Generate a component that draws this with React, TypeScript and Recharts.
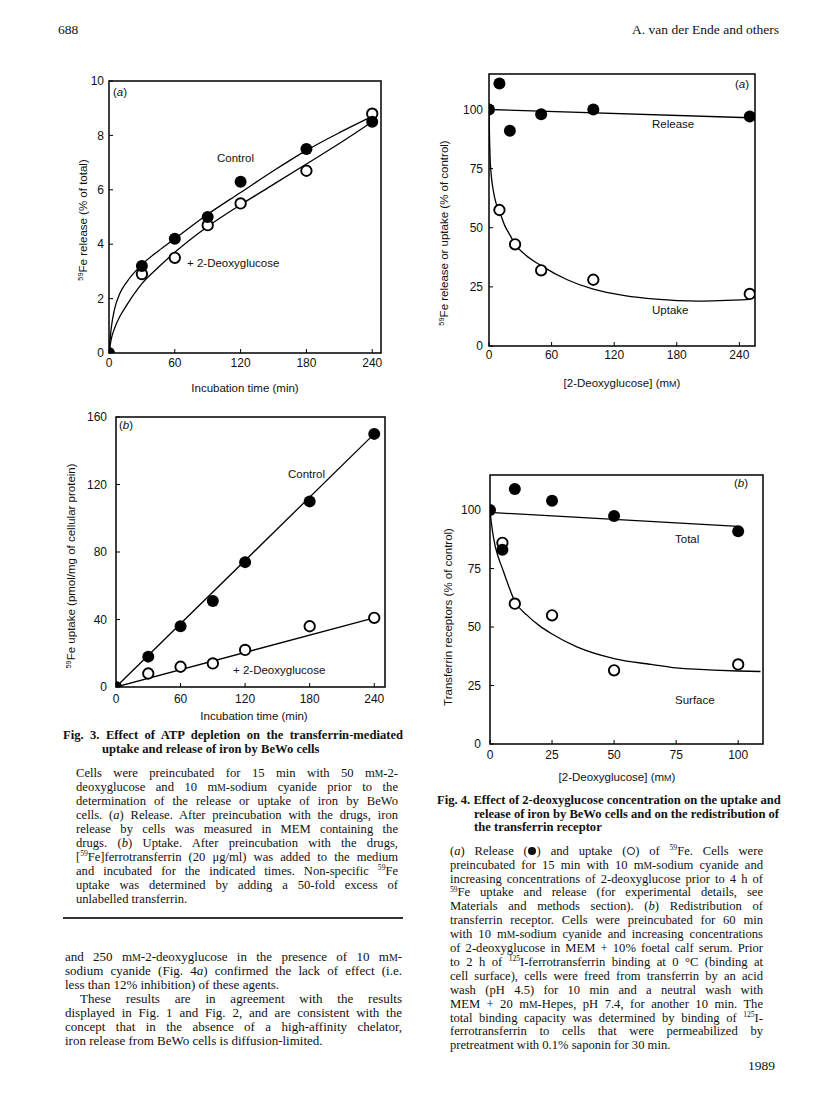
import React from 'react';
import { ComposedChart, XAxis, YAxis, Line, Scatter, ReferenceArea } from 'recharts';

// Fig. 3a: 59Fe release
const relTime = [0, 30, 60, 90, 120, 180, 240];
const relControl = [0, 3.2, 4.2, 5.0, 6.3, 7.5, 8.5];
const relDeoxy = [0, 2.9, 3.5, 4.7, 5.5, 6.7, 8.8];
const relFitX = [0, 2, 5, 10, 16, 30, 45, 60, 90, 120, 150, 180, 210, 240];
const relFitControl = [0, 0.9, 1.6, 2.2, 2.6, 3.25, 3.75, 4.2, 5.1, 5.9, 6.7, 7.45, 8.1, 8.7];
const relFitDeoxy = [0, 0.5, 0.9, 1.35, 1.75, 2.55, 3.15, 3.7, 4.65, 5.45, 6.2, 6.95, 7.7, 8.5];

// Fig. 3b: 59Fe uptake
const upTime = [0, 30, 60, 90, 120, 180, 240];
const upControl = [0, 18, 36, 51, 74, 110, 150];
const upDeoxy = [0, 8, 12, 14, 22, 36, 41];
const upFitX = [0, 240];
const upFitControl = [0, 150];
const upFitDeoxy = [0, 41];

// Fig. 4a: release / uptake vs 2-deoxyglucose
const relConc = [0, 10, 20, 50, 100, 250];
const relPct = [100, 111, 91, 98, 100, 97];
const uptConc = [10, 25, 50, 100, 250];
const uptPct = [57.5, 43, 32, 28, 22];
const relLineX = [0, 250];
const relLineY = [100, 96.5];
const uptFitX = [0, 0.5, 1, 2, 4, 7, 10, 15, 20, 25, 35, 50, 75, 100, 130, 160, 200, 250];
const uptFitY = [100, 88, 80, 73, 66, 60, 57, 51, 47, 43, 38.5, 34, 28, 24, 21.3, 19.8, 19, 19.7];

// Fig. 4b: transferrin receptors
const totConc = [0, 5, 10, 25, 50, 100];
const totPct = [100, 83, 109, 104, 97.5, 91];
const surConc = [5, 10, 25, 50, 100];
const surPct = [86, 60, 55, 31.5, 34];
const totLineX = [0, 100];
const totLineY = [99, 93];
const surFitX = [0, 0.5, 1, 2, 3, 5, 7, 10, 15, 20, 25, 35, 50, 65, 75, 90, 100, 109];
const surFitY = [100, 95, 91, 85, 81, 75, 69, 61, 55, 50.5, 47, 41.5, 36.5, 34, 32.5, 31.6, 31.2, 31];

const ticks240 = [0, 60, 120, 180, 240];
const ticks100 = [0, 25, 50, 75, 100];

const fig3Title = [
  'Fig. 3. Effect of ATP depletion on the transferrin-mediated',
  'uptake and release of iron by BeWo cells',
];
const fig3Text = [
  'Cells were preincubated for 15 min with 50 mM-2-',
  'deoxyglucose and 10 mM-sodium cyanide prior to the',
  'determination of the release or uptake of iron by BeWo',
  'cells. (_a_) Release. After preincubation with the drugs, iron',
  'release by cells was measured in MEM containing the',
  'drugs. (_b_) Uptake. After preincubation with the drugs,',
  '[^59Fe]ferrotransferrin (20 μg/ml) was added to the medium',
  'and incubated for the indicated times. Non-specific ^59Fe',
  'uptake was determined by adding a 50-fold excess of',
  'unlabelled transferrin.',
];
const bodyText = [
  'and 250 mM-2-deoxyglucose in the presence of 10 mM-',
  'sodium cyanide (Fig. 4_a_) confirmed the lack of effect (i.e.',
  'less than 12% inhibition) of these agents.',
  'These results are in agreement with the results',
  'displayed in Fig. 1 and Fig. 2, and are consistent with the',
  'concept that in the absence of a high-affinity chelator,',
  'iron release from BeWo cells is diffusion-limited.',
];
const fig4Title = [
  'Fig. 4. Effect of 2-deoxyglucose concentration on the uptake and',
  'release of iron by BeWo cells and on the redistribution of',
  'the transferrin receptor',
];
const fig4Text = [
  '(_a_) Release (@F) and uptake (@O) of ^59Fe. Cells were',
  'preincubated for 15 min with 10 mM-sodium cyanide and',
  'increasing concentrations of 2-deoxyglucose prior to 4 h of',
  '^59Fe uptake and release (for experimental details, see',
  'Materials and methods section). (_b_) Redistribution of',
  'transferrin receptor. Cells were preincubated for 60 min',
  'with 10 mM-sodium cyanide and increasing concentrations',
  'of 2-deoxyglucose in MEM + 10% foetal calf serum. Prior',
  'to 2 h of ^125I-ferrotransferrin binding at 0 °C (binding at',
  'cell surface), cells were freed from transferrin by an acid',
  'wash (pH 4.5) for 10 min and a neutral wash with',
  'MEM + 20 mM-Hepes, pH 7.4, for another 10 min. The',
  'total binding capacity was determined by binding of ^125I-',
  'ferrotransferrin to cells that were permeabilized by',
  'pretreatment with 0.1% saponin for 30 min.',
];

const pts = (xs: number[], ys: number[]) => xs.map((x, i) => ({ x, y: ys[i] }));

const SANS = '"Liberation Sans", Arial, Helvetica, sans-serif';
const SERIF = '"Liberation Serif", "Times New Roman", serif';
const tickStyle = { fontSize: 12, fontFamily: SANS, fill: '#111' };

const Filled = (p: any) => <circle cx={p.cx} cy={p.cy} r={6} fill="#000" />;
const Open = (p: any) => <circle cx={p.cx} cy={p.cy} r={5.2} fill="#fff" stroke="#000" strokeWidth={1.9} />;

interface PanelProps {
  box: [number, number, number, number];
  xDomain: [number, number];
  yDomain: [number, number];
  xTicks: number[];
  yTicks: number[];
  xGap: number;
  yGap: number;
  curves: { x: number; y: number }[][];
  open: { x: number; y: number }[];
  filled: { x: number; y: number }[];
}

const Panel: React.FC<PanelProps> = ({ box, xDomain, yDomain, xTicks, yTicks, xGap, yGap, curves, open, filled }) => {
  const [l, t, r, b] = box;
  const w = r - l;
  const h = b - t;
  return (
    <div style={{ position: 'absolute', left: l - 60, top: t - 10 }}>
      <ComposedChart width={w + 70} height={h + 60} margin={{ top: 10, right: 10, bottom: 0, left: 0 }}>
        <XAxis
          type="number"
          dataKey="x"
          domain={xDomain}
          ticks={xTicks}
          interval={0}
          height={50}
          allowDataOverflow
          axisLine={false}
          tickSize={-4}
          tickMargin={xGap + 4}
          tickLine={{ stroke: '#000' }}
          tick={tickStyle}
        />
        <YAxis
          type="number"
          dataKey="y"
          domain={yDomain}
          ticks={yTicks}
          interval={0}
          width={60}
          allowDataOverflow
          axisLine={false}
          tickSize={-4}
          tickMargin={yGap + 4}
          tickLine={{ stroke: '#000' }}
          tick={tickStyle}
        />
        <ReferenceArea
          x1={xDomain[0]}
          x2={xDomain[1]}
          y1={yDomain[0]}
          y2={yDomain[1]}
          fill="none"
          stroke="#000"
          strokeWidth={1.5}
          ifOverflow="visible"
        />
        {curves.map((c, i) => (
          <Line
            key={i}
            data={c}
            dataKey="y"
            type="monotone"
            stroke="#000"
            strokeWidth={1.3}
            dot={false}
            activeDot={false}
            isAnimationActive={false}
          />
        ))}
        <Scatter data={open} shape={Open} isAnimationActive={false} />
        <Scatter data={filled} shape={Filled} isAnimationActive={false} />
      </ComposedChart>
    </div>
  );
};

const symStyle: React.CSSProperties = {
  display: 'inline-block',
  width: '0.62em',
  height: '0.62em',
  borderRadius: '50%',
  boxSizing: 'border-box',
  verticalAlign: '-0.02em',
  margin: '0 0.04em',
};

// small caps M, italics, superscripts and legend symbols inside running text
function rich(s: string) {
  return s.split(/(mM|_[^_]+_|\^\d+|@F|@O)/).map((p, i) => {
    if (p === 'mM') return <span key={i}>m<span style={{ fontSize: '0.76em' }}>M</span></span>;
    if (p === '@F') return <span key={i} style={{ ...symStyle, background: '#111' }} />;
    if (p === '@O') return <span key={i} style={{ ...symStyle, border: '1.4px solid #111' }} />;
    if (p.length > 2 && p[0] === '_') return <i key={i}>{p.slice(1, -1)}</i>;
    if (p[0] === '^') return <span key={i} style={{ fontSize: '0.6em', position: 'relative', top: '-0.6em' }}>{p.slice(1)}</span>;
    return <React.Fragment key={i}>{p}</React.Fragment>;
  });
}

const TextLine: React.FC<{ x: number; cy: number; w?: number; size: number; bold?: boolean; just?: boolean; text: string }> = ({ x, cy, w, size, bold, just, text }) => (
  <div
    style={{
      position: 'absolute',
      left: x,
      top: cy - 8,
      width: w,
      height: 16,
      lineHeight: '16px',
      fontSize: size,
      fontWeight: bold ? 'bold' : 'normal',
      fontFamily: SERIF,
      whiteSpace: 'nowrap',
      textAlign: just ? 'justify' : 'left',
      textAlignLast: just ? 'justify' : 'left',
    }}
  >
    {rich(text)}
  </div>
);

const Note: React.FC<{ x: number; cy: number; size?: number; children: React.ReactNode }> = ({ x, cy, size = 11.5, children }) => (
  <div style={{ position: 'absolute', left: x, top: cy - 8, lineHeight: '16px', fontSize: size, fontFamily: SANS, whiteSpace: 'nowrap', color: '#111' }}>
    {children}
  </div>
);

const AxisTitle: React.FC<{ cx: number; cy: number; rotate?: boolean; children: React.ReactNode }> = ({ cx, cy, rotate, children }) => (
  <div
    style={{
      position: 'absolute',
      left: cx,
      top: cy,
      transform: `translate(-50%, -50%)${rotate ? ' rotate(-90deg)' : ''}`,
      lineHeight: '16px',
      fontSize: 11.5,
      fontFamily: SANS,
      whiteSpace: 'nowrap',
      color: '#111',
    }}
  >
    {children}
  </div>
);

const Sup: React.FC<{ children: React.ReactNode }> = ({ children }) => (
  <span style={{ fontSize: '0.65em', position: 'relative', top: '-0.5em' }}>{children}</span>
);
const SmallM = () => <span style={{ fontSize: '0.78em' }}>M</span>;

export default function App() {
  return (
    <div
      style={{
        position: 'absolute',
        left: 0,
        top: 0,
        width: 816,
        height: 1103,
        background: '#fff',
        overflow: 'hidden',
        color: '#111',
        fontFamily: SERIF,
      }}
    >
      {/* running head */}
      <div style={{ position: 'absolute', left: 58, top: 22, fontSize: 13.5, lineHeight: '16px' }}>688</div>
      <div style={{ position: 'absolute', right: 816 - 779, top: 22, fontSize: 13.5, lineHeight: '16px' }}>A. van der Ende and others</div>
      <div style={{ position: 'absolute', left: 748, top: 1058, fontSize: 13.5, lineHeight: '16px' }}>1989</div>

      {/* Fig. 3a */}
      <Panel
        box={[109, 81, 381, 353]}
        xDomain={[0, 248]}
        yDomain={[0, 10]}
        xTicks={ticks240}
        yTicks={[0, 2, 4, 6, 8, 10]}
        xGap={5}
        yGap={5}
        curves={[pts(relFitX, relFitControl), pts(relFitX, relFitDeoxy)]}
        open={pts(relTime.slice(1), relDeoxy.slice(1))}
        filled={pts(relTime, relControl)}
      />
      <Note x={113} cy={92}>(<i>a</i>)</Note>
      <Note x={217} cy={158}>Control</Note>
      <Note x={187} cy={263}>+ 2-Deoxyglucose</Note>
      <AxisTitle cx={84} cy={220} rotate><Sup>59</Sup>Fe release (% of total)</AxisTitle>
      <AxisTitle cx={245} cy={388}>Incubation time (min)</AxisTitle>

      {/* Fig. 3b */}
      <Panel
        box={[116, 417, 385, 687]}
        xDomain={[0, 250]}
        yDomain={[0, 160]}
        xTicks={ticks240}
        yTicks={[0, 40, 80, 120, 160]}
        xGap={7}
        yGap={9}
        curves={[pts(upFitX, upFitControl), pts(upFitX, upFitDeoxy)]}
        open={pts(upTime.slice(1), upDeoxy.slice(1))}
        filled={pts(upTime, upControl)}
      />
      <Note x={119} cy={425}>(<i>b</i>)</Note>
      <Note x={288} cy={474}>Control</Note>
      <Note x={233} cy={670}>+ 2-Deoxyglucose</Note>
      <AxisTitle cx={72} cy={566} rotate><Sup>59</Sup>Fe uptake (pmol/mg of cellular protein)</AxisTitle>
      <AxisTitle cx={254} cy={716}>Incubation time (min)</AxisTitle>

      {/* Fig. 4a */}
      <Panel
        box={[489, 74, 755, 346]}
        xDomain={[0, 255]}
        yDomain={[0, 115]}
        xTicks={ticks240}
        yTicks={ticks100}
        xGap={4}
        yGap={6}
        curves={[pts(relLineX, relLineY), pts(uptFitX, uptFitY)]}
        open={pts(uptConc, uptPct)}
        filled={pts(relConc, relPct)}
      />
      <Note x={735} cy={84}>(<i>a</i>)</Note>
      <Note x={652} cy={124}>Release</Note>
      <Note x={652} cy={310}>Uptake</Note>
      <AxisTitle cx={445} cy={233} rotate><Sup>59</Sup>Fe release or uptake (% of control)</AxisTitle>
      <AxisTitle cx={622} cy={383}>[2-Deoxyglucose] (m<SmallM />)</AxisTitle>

      {/* Fig. 4b */}
      <Panel
        box={[490, 475, 763, 744]}
        xDomain={[0, 110]}
        yDomain={[0, 115]}
        xTicks={ticks100}
        yTicks={ticks100}
        xGap={6}
        yGap={9}
        curves={[pts(totLineX, totLineY), pts(surFitX, surFitY)]}
        open={pts(surConc, surPct)}
        filled={pts(totConc, totPct)}
      />
      <Note x={734} cy={483}>(<i>b</i>)</Note>
      <Note x={675} cy={539}>Total</Note>
      <Note x={675} cy={700}>Surface</Note>
      <AxisTitle cx={448} cy={617} rotate>Transferrin receptors (% of control)</AxisTitle>
      <AxisTitle cx={617} cy={777}>[2-Deoxyglucose] (m<SmallM />)</AxisTitle>

      {/* Fig. 3 legend */}
      <TextLine x={63} cy={735} w={340} size={12.6} bold just text={fig3Title[0]} />
      <TextLine x={102} cy={749} size={12.6} bold text={fig3Title[1]} />
      {fig3Text.map((s, i) => (
        <TextLine key={i} x={76} cy={772.7 + i * 14} w={322} size={12.6} just={i < fig3Text.length - 1} text={s} />
      ))}
      <div style={{ position: 'absolute', left: 63, top: 917, width: 340, height: 1.6, background: '#333' }} />

      {/* running text */}
      {bodyText.map((s, i) => {
        const indent = i === 3 ? 15 : 0;
        const last = i === 2 || i === 6;
        return <TextLine key={i} x={65 + indent} cy={957 + i * 14} w={337 - indent} size={13} just={!last} text={s} />;
      })}

      {/* Fig. 4 legend */}
      <TextLine x={437} cy={800} w={326} size={12.6} bold just text={fig4Title[0]} />
      <TextLine x={474} cy={814} w={289} size={12.6} bold just text={fig4Title[1]} />
      <TextLine x={474} cy={827} size={12.6} bold text={fig4Title[2]} />
      {fig4Text.map((s, i) => (
        <TextLine key={i} x={450} cy={850.7 + i * 13.9} w={313} size={12.6} just={i < fig4Text.length - 1} text={s} />
      ))}
    </div>
  );
}
